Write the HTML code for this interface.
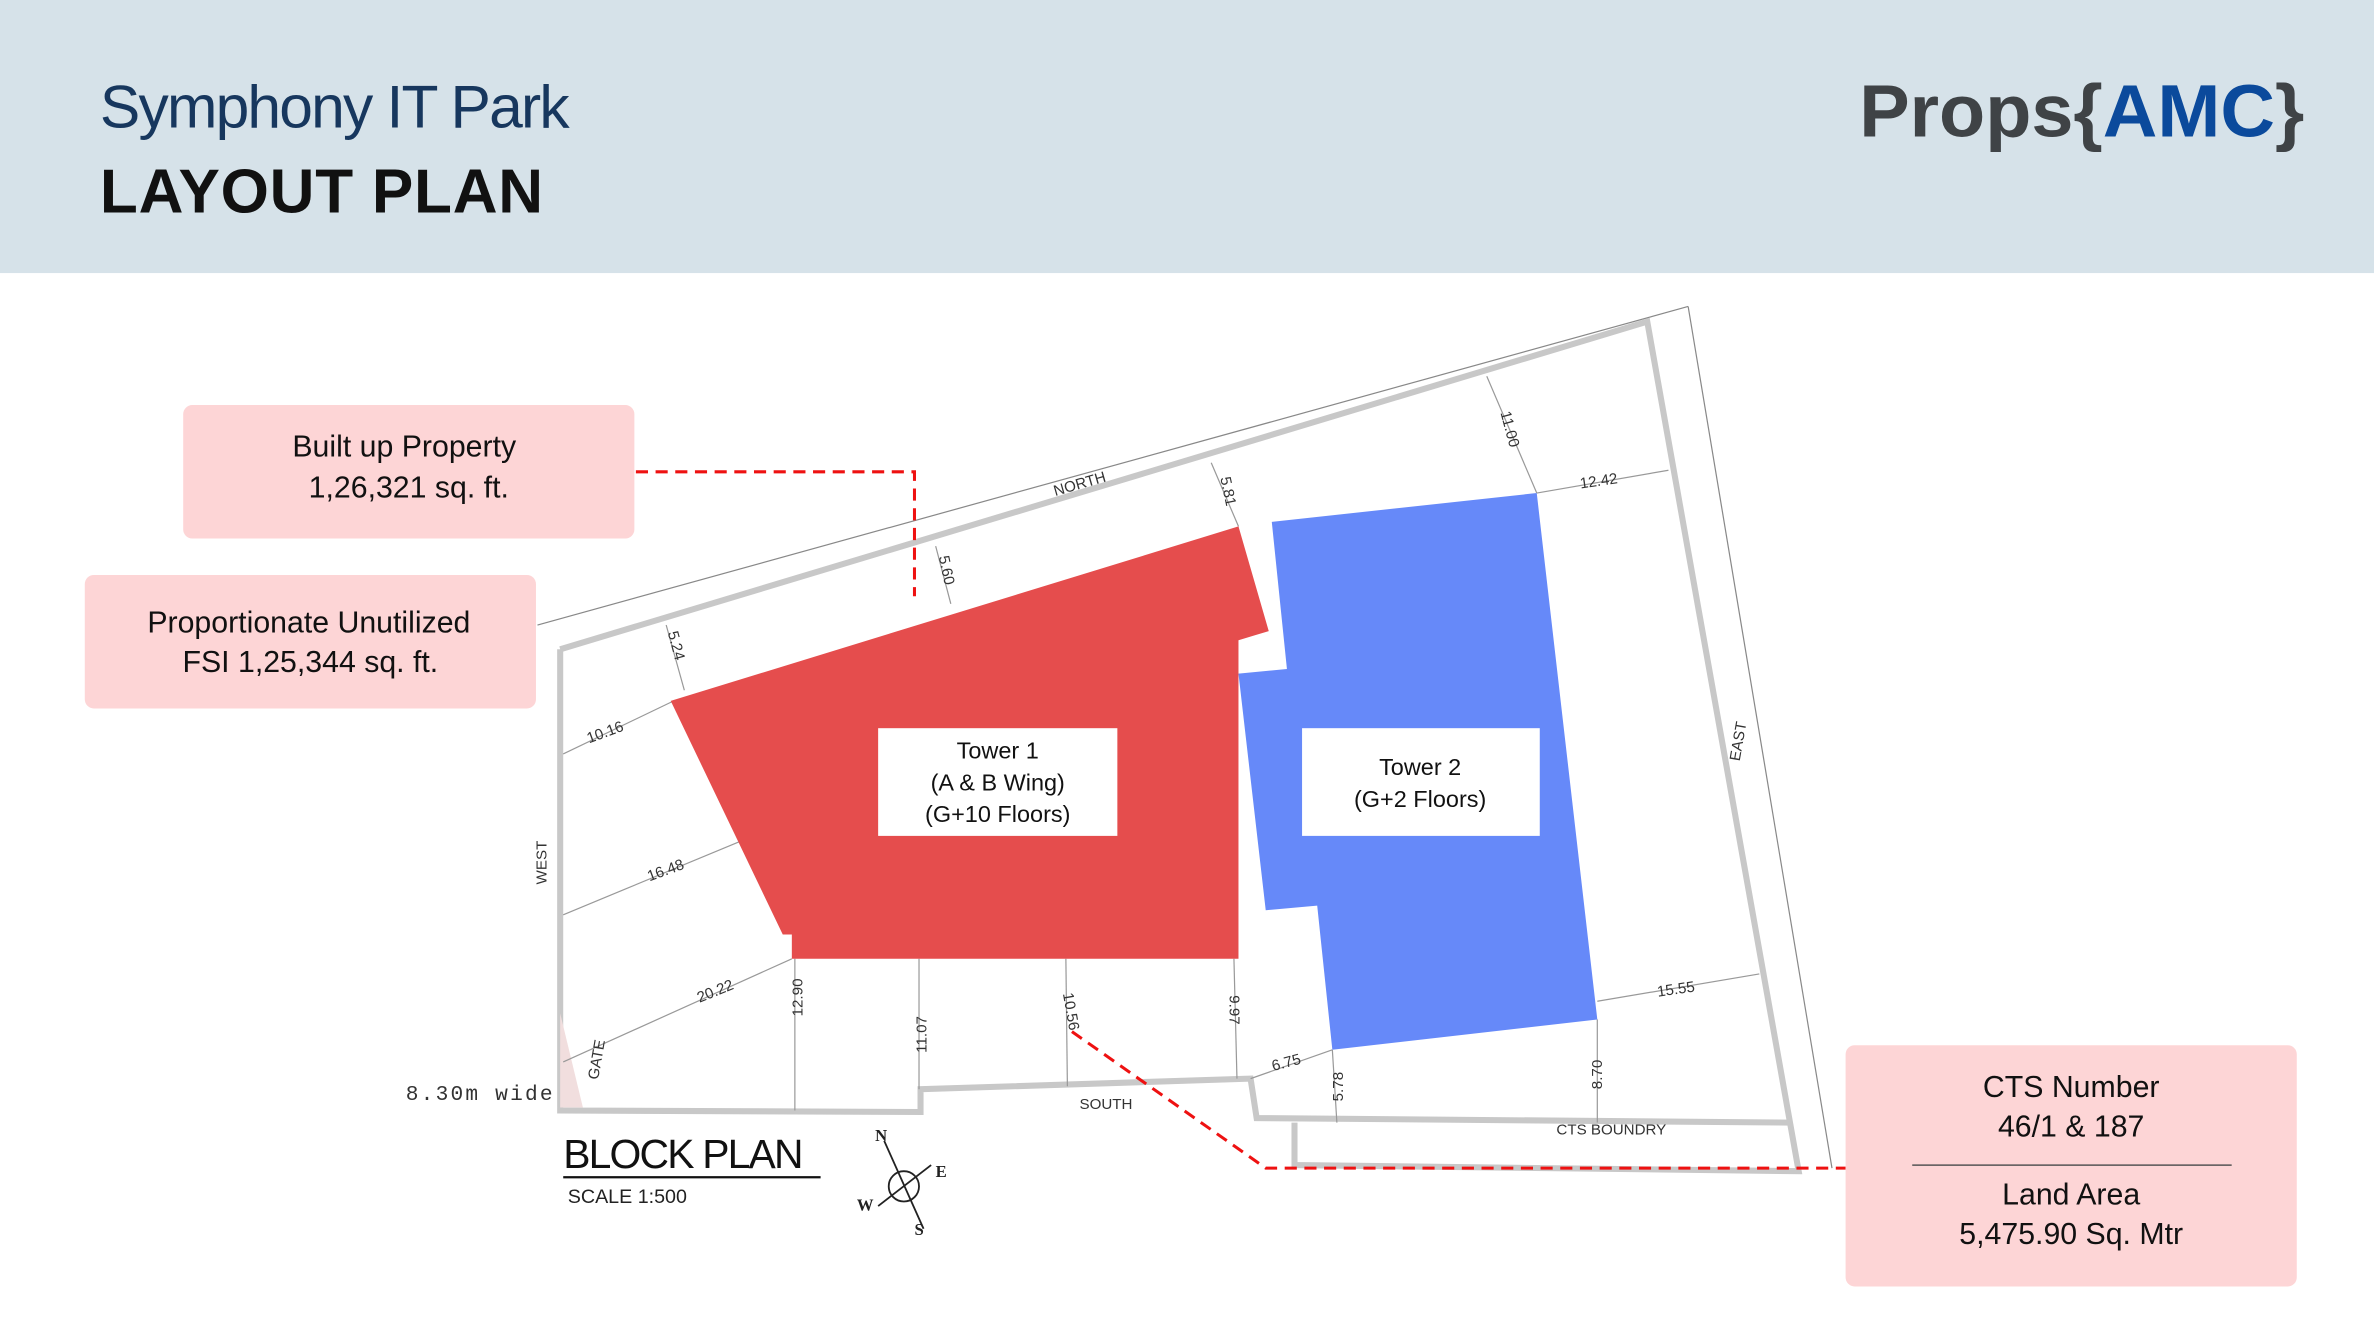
<!DOCTYPE html>
<html><head><meta charset="utf-8"><style>
html,body{margin:0;padding:0;background:#fff;}
svg{display:block;}
</style></head><body>
<svg width="2374" height="1335" viewBox="0 0 1568 880" preserveAspectRatio="none" xmlns="http://www.w3.org/2000/svg" font-family="Liberation Sans, sans-serif">
<rect x="0" y="0" width="1568" height="180" fill="#d6e2e9"/>
<text x="66" y="84" font-size="40" fill="#17375e" letter-spacing="-1.2">Symphony IT Park</text>
<text x="66" y="140" font-size="41" font-weight="bold" fill="#111" letter-spacing="0.5">LAYOUT PLAN</text>
<text x="1228" y="90" font-size="49" font-weight="bold" fill="#3f4346" textLength="294" lengthAdjust="spacingAndGlyphs">Props{<tspan fill="#0b4a9c">AMC</tspan>}</text>

<!-- thin outer lines -->
<line x1="355" y1="412" x2="1115" y2="202" stroke="#888" stroke-width="0.8"/>
<line x1="1115" y1="202" x2="1210" y2="770" stroke="#888" stroke-width="0.8"/>
<!-- boundary -->
<g fill="none" stroke="#c8c8c8" stroke-width="4">
<polyline points="370,428 1088,212 1188,772 855,768 855,740"/>
<polyline points="370,428 370,732 608,733 608,718 826,711 830,737 1183,740"/>
</g>
<polygon points="370,668 385,730 370,730" fill="#f1dede"/>
<!-- dimension lines -->
<g stroke="#999" stroke-width="0.8">
<line x1="440" y1="412" x2="452" y2="455"/>
<line x1="618" y1="360" x2="628" y2="398"/>
<line x1="800" y1="305" x2="818" y2="347"/>
<line x1="982" y1="248" x2="1015" y2="325"/>
<line x1="1015" y1="325" x2="1102" y2="310"/>
<line x1="372" y1="497" x2="445" y2="462"/>
<line x1="372" y1="603" x2="488" y2="555"/>
<line x1="372" y1="700" x2="523" y2="632"/>
<line x1="525" y1="632" x2="525" y2="732"/>
<line x1="607" y1="632" x2="607" y2="718"/>
<line x1="704" y1="632" x2="705" y2="716"/>
<line x1="815" y1="632" x2="817" y2="711"/>
<line x1="826" y1="711" x2="880" y2="692"/>
<line x1="880" y1="692" x2="883" y2="740"/>
<line x1="1055" y1="672" x2="1055" y2="740"/>
<line x1="1055" y1="660" x2="1162" y2="642"/>
</g>
<!-- towers -->
<polygon points="443,462 818,347 838,416 818,422 818,632 523,632 523,616 517,616" fill="#e54d4d"/>
<polygon points="840,344 1015,325 1055,672 880,692 870,597 836,600 818,444 850,441" fill="#6689f9"/>
<rect x="580" y="480" width="158" height="71" fill="#fff"/>
<rect x="860" y="480" width="157" height="71" fill="#fff"/>
<g font-size="15.5" fill="#111" text-anchor="middle">
<text x="659" y="500">Tower 1</text>
<text x="659" y="521">(A &amp; B Wing)</text>
<text x="659" y="542">(G+10 Floors)</text>
<text x="938" y="511">Tower 2</text>
<text x="938" y="532">(G+2 Floors)</text>
</g>
<!-- small labels -->
<g font-size="10" fill="#333">
<text x="697" y="327" transform="rotate(-16 697 327)">NORTH</text>
<text x="1149" y="502" transform="rotate(-80 1149 502)">EAST</text>
<text x="361" y="583" transform="rotate(-90 361 583)">WEST</text>
<text x="395" y="712" transform="rotate(-80 395 712)">GATE</text>
<text x="713" y="731">SOUTH</text>
<text x="1028" y="748">CTS BOUNDRY</text>
<text x="389" y="490" transform="rotate(-20 389 490)">10.16</text>
<text x="429" y="581" transform="rotate(-20 429 581)">16.48</text>
<text x="462" y="661" transform="rotate(-22 462 661)">20.22</text>
<text x="841" y="706" transform="rotate(-15 841 706)">6.75</text>
<text x="1044" y="322" transform="rotate(-8 1044 322)">12.42</text>
<text x="1095" y="657" transform="rotate(-8 1095 657)">15.55</text>
<text x="441" y="417" transform="rotate(75 441 417)">5.24</text>
<text x="620" y="367" transform="rotate(78 620 367)">5.60</text>
<text x="806" y="315" transform="rotate(78 806 315)">5.81</text>
<text x="991" y="272" transform="rotate(75 991 272)">11.00</text>
<text x="530" y="670" transform="rotate(-90 530 670)">12.90</text>
<text x="612" y="694" transform="rotate(-90 612 694)">11.07</text>
<text x="702" y="655" transform="rotate(80 702 655)">10.56</text>
<text x="812" y="656" transform="rotate(90 812 656)">9.97</text>
<text x="887" y="726" transform="rotate(-90 887 726)">5.78</text>
<text x="1058" y="718" transform="rotate(-90 1058 718)">8.70</text>
</g>
<text x="268" y="725" font-family="Liberation Mono, monospace" font-size="14" fill="#333" textLength="97">8.30m wide</text>
<text x="372" y="770" font-size="27" fill="#111" letter-spacing="-1.2">BLOCK PLAN</text>
<line x1="372" y1="776" x2="542" y2="776" stroke="#111" stroke-width="1.5"/>
<text x="375" y="793" font-size="13" fill="#222">SCALE  1:500</text>
<!-- compass -->
<g stroke="#222" stroke-width="1.2" fill="none">
<circle cx="597" cy="782" r="10"/>
<line x1="584" y1="752" x2="610" y2="810"/>
<line x1="580" y1="795" x2="615" y2="768"/>
</g>
<g font-size="11" font-family="Liberation Serif, serif" font-weight="bold" fill="#222">
<text x="578" y="752">N</text><text x="618" y="776">E</text><text x="566" y="798">W</text><text x="604" y="814">S</text>
</g>
<!-- callouts -->
<g fill="none" stroke="#e11" stroke-width="2" stroke-dasharray="8,5">
<polyline points="420,311 604,311 604,393"/>
<polyline points="708,680 836,770 1219,770"/>
</g>
<rect x="121" y="267" width="298" height="88" rx="6" fill="#fdd5d6"/>
<rect x="56" y="379" width="298" height="88" rx="6" fill="#fdd5d6"/>
<rect x="1219" y="689" width="298" height="159" rx="6" fill="#fdd5d6"/>
<g font-size="20" fill="#111" text-anchor="middle">
<text x="267" y="301">Built up Property</text>
<text x="270" y="328">1,26,321 sq. ft.</text>
<text x="204" y="417">Proportionate Unutilized</text>
<text x="205" y="443">FSI  1,25,344 sq. ft.</text>
<text x="1368" y="723">CTS Number</text>
<text x="1368" y="749">46/1 &amp; 187</text>
<text x="1368" y="794">Land Area</text>
<text x="1368" y="820">5,475.90 Sq. Mtr</text>
</g>
<line x1="1263" y1="768" x2="1474" y2="768" stroke="#555" stroke-width="1"/>
</svg>
</body></html>
